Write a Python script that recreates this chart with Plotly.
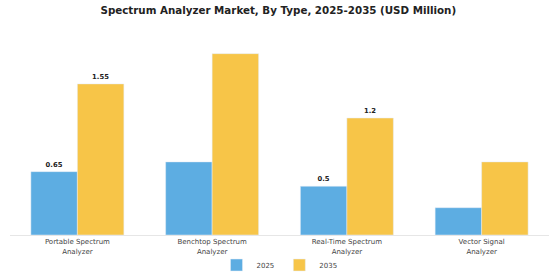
import plotly.graph_objects as go

categories = ["Portable Spectrum<br>Analyzer", "Benchtop Spectrum<br>Analyzer",
              "Real-Time Spectrum<br>Analyzer", "Vector Signal<br>Analyzer"]
values_2025 = [0.65, 0.75, 0.5, 0.28]
values_2035 = [1.55, 1.86, 1.2, 0.75]
labels_2025 = ["0.65", "", "0.5", ""]
labels_2035 = ["1.55", "", "1.2", ""]

fig = go.Figure()
fig.add_trace(go.Bar(x=categories, y=values_2025, name="2025", marker_color="#5DADE2",
                     text=labels_2025, textposition="outside", cliponaxis=False,
                     textfont=dict(size=6.8, color="#222", family="DejaVu Sans"),
                     texttemplate="<b>%{text}</b>"))
fig.add_trace(go.Bar(x=categories, y=values_2035, name="2035", marker_color="#F7C548",
                     text=labels_2035, textposition="outside", cliponaxis=False,
                     textfont=dict(size=6.8, color="#222", family="DejaVu Sans"),
                     texttemplate="<b>%{text}</b>"))

fig.update_layout(
    width=560, height=280,
    margin=dict(l=10, r=11, t=40, b=45, autoexpand=False),
    paper_bgcolor="white", plot_bgcolor="white",
    barmode="group", bargap=0.31, bargroupgap=0,
    title=dict(text="<b>Spectrum Analyzer Market, By Type, 2025-2035 (USD Million)</b>",
               x=0.497, xanchor="center", y=1 - 10.5 / 280, yanchor="middle",
               font=dict(family="DejaVu Sans", size=10.3, color="#222")),
    font=dict(family="DejaVu Sans", size=7, color="#444"),
    showlegend=True,
    legend=dict(orientation="h", x=0.5, xanchor="center", yref="container",
                y=15 / 280, yanchor="middle", bgcolor="rgba(0,0,0,0)",
                font=dict(size=7, color="#444"), itemwidth=30, tracegroupgap=0),
    uniformtext=dict(minsize=5, mode="show"),
)
fig.update_xaxes(showline=True, linecolor="#e6e6e6", linewidth=1, ticks="",
                 tickfont=dict(size=7, color="#444"), showgrid=False, automargin=False)
fig.update_yaxes(range=[0, 2.0], visible=False, showgrid=False, automargin=False)

fig.write_html("out.html")
